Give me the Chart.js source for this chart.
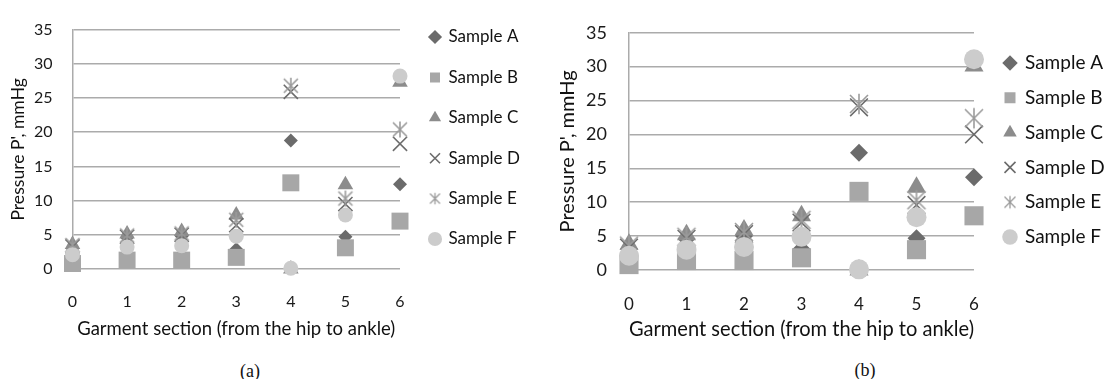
<!DOCTYPE html>
<html lang="en">
<head>
  <meta charset="UTF-8">
  <title>Garment pressure by section</title>
  <script src="https://cdn.jsdelivr.net/npm/chart.js"></script>
  <style>
    body {
      margin: 0;
      background: #fff;
      width: 1111px;
      height: 379px;
      position: relative;
      overflow: hidden;
    }

    canvas {
      position: absolute;
      top: 0;
    }

    #chartA { left: 0; }
    #chartB { left: 555px; }

    .caption {
      position: absolute;
      font-family: 'Liberation Serif', serif;
      font-size: 18px;
      color: #111;
      transform: translate(-50%, -50%);
    }
  </style>
</head>
<body>
  <canvas id="chartA" width="555" height="345"></canvas>
  <canvas id="chartB" width="556" height="345"></canvas>
  <div class="caption" style="left:250px; top:371px;">(a)</div>
  <div class="caption" style="left:865px; top:370px;">(b)</div>

  <script>
    const sections = [0, 1, 2, 3, 4, 5, 6];
    const yTickValues = [0, 5, 10, 15, 20, 25, 30, 35];
    const sampleNames = ['Sample A', 'Sample B', 'Sample C', 'Sample D', 'Sample E', 'Sample F'];

    // panel (a)
    const aSampleA = [3.0, 4.6, 4.8, 2.9, 18.8, 4.7, 12.4];
    const aSampleB = [0.8, 1.3, 1.3, 1.7, 12.6, 3.1, 7.0];
    const aSampleC = [3.6, 5.1, 5.5, 7.9, 0.0, 12.3, 27.3];
    const aSampleD = [3.3, 4.7, 5.0, 6.4, 25.9, 9.5, 18.3];
    const aSampleE = [3.5, 4.9, 5.2, 7.2, 26.8, 10.3, 20.4];
    const aSampleF = [2.1, 3.2, 3.4, 4.8, 0.1, 7.9, 28.2];

    // panel (b)
    const bSampleA = [3.1, 4.6, 5.0, 3.1, 17.3, 4.7, 13.7];
    const bSampleB = [0.8, 1.4, 1.4, 1.8, 11.6, 3.0, 8.0];
    const bSampleC = [3.8, 5.2, 5.9, 8.0, 0.0, 12.2, 30.1];
    const bSampleD = [3.3, 4.6, 5.3, 7.0, 24.0, 9.6, 20.0];
    const bSampleE = [3.6, 4.9, 5.6, 7.4, 24.5, 10.3, 22.4];
    const bSampleF = [2.1, 3.0, 3.4, 4.9, 0.1, 7.8, 31.1];

    const markerStyles = [
      { style: 'rectRot', fill: '#6b6b6b' },
      { style: 'rect', fill: '#a7a7a7' },
      { style: 'triangle', fill: '#8c8c8c' },
      { style: 'crossRot', line: '#6c6c6c' },
      { style: 'asterisk', line: '#9b9b9b' },
      { style: 'circle', fill: '#cccccc' }
    ];

    const fontFamily = 'Lato, "Open Sans", sans-serif';
    const gridColor = '#ababab';

    // X with a vertical bar, like the spreadsheet "*" marker
    function makeAsterisk(half, color, lw) {
      const size = Math.ceil(half * 2.3 + lw * 2);
      const c = document.createElement('canvas');
      c.width = size;
      c.height = size;
      const g = c.getContext('2d');
      const m = size / 2;
      g.strokeStyle = color;
      g.lineWidth = lw;
      g.beginPath();
      g.moveTo(m - half, m - half);
      g.lineTo(m + half, m + half);
      g.moveTo(m + half, m - half);
      g.lineTo(m - half, m + half);
      g.moveTo(m, m - half * 1.15);
      g.lineTo(m, m + half * 1.15);
      g.stroke();
      return c;
    }

    function buildDatasets(series, radii, legendBox) {
      return series.map((vals, i) => {
        const m = markerStyles[i];
        const ds = {
          label: sampleNames[i],
          data: sections.map((x, j) => ({ x: x, y: vals[j] })),
          order: series.length - i,
          pointRadius: radii[i],
          pointHoverRadius: radii[i],
          clip: false
        };
        if (m.fill) {
          ds.pointStyle = m.style;
          ds.pointBackgroundColor = m.fill;
          ds.pointBorderColor = m.fill;
          ds.pointBorderWidth = 0;
        } else if (m.style === 'crossRot') {
          ds.pointStyle = 'crossRot';
          ds.pointBackgroundColor = m.line;
          ds.pointBorderColor = m.line;
          ds.pointBorderWidth = 1.6;
        } else {
          ds.pointStyle = makeAsterisk(radii[i], m.line, 1.6);
          ds.legendStyle = makeAsterisk(legendBox / 2, m.line, 1.3);
          ds.pointBackgroundColor = m.line;
          ds.pointBorderColor = m.line;
          ds.pointBorderWidth = 1.6;
        }
        ds.backgroundColor = ds.pointBackgroundColor;
        ds.borderColor = ds.pointBorderColor;
        return ds;
      });
    }

    // moves the legend column so the first marker sits at (x, y)
    const legendPlacer = {
      id: 'legendPlacer',
      afterLayout(chart, args, opts) {
        const lg = chart.legend;
        if (!lg || !lg.legendItems) return;
        const lab = lg.options.labels;
        const fs = lab.font.size;
        const p = lab.padding;
        const bw = Math.min(lab.boxWidth, fs);
        const colH = lg.legendItems.length * (fs + p);
        const rowTop = (lg.top + p + lg.bottom - colH) / 2;
        const dx = opts.x - (lg.left + p + bw / 2);
        const dy = opts.y - (rowTop + fs / 2);
        lg.left += dx;
        lg.right += dx;
        lg.top += dy;
        lg.bottom += dy;
      }
    };

    function makePanel(canvasId, series, g) {
      const chart = new Chart(document.getElementById(canvasId), {
        type: 'scatter',
        data: { datasets: buildDatasets(series, g.radii, g.box) },
        plugins: [legendPlacer],
        options: {
          responsive: false,
          animation: false,
          events: [],
          layout: { padding: { left: 0, top: g.top, right: 0, bottom: 0 } },
          plugins: {
            tooltip: { enabled: false },
            legendPlacer: { x: g.legendX, y: g.legendY },
            legend: {
              position: 'right',
              align: 'center',
              labels: {
                usePointStyle: true,
                boxWidth: g.box,
                boxHeight: g.box,
                padding: g.legendPad,
                color: '#111',
                font: { family: fontFamily, size: g.legendFont },
                sort: (a, b) => a.datasetIndex - b.datasetIndex,
                generateLabels(ch) {
                  const items = Chart.defaults.plugins.legend.labels.generateLabels(ch);
                  items.forEach(it => {
                    const ds = ch.data.datasets[it.datasetIndex];
                    if (ds.legendStyle) it.pointStyle = ds.legendStyle;
                  });
                  return items;
                }
              }
            }
          },
          scales: {
            x: {
              type: 'linear',
              min: 0,
              max: 6,
              afterBuildTicks: s => { s.ticks = sections.map(v => ({ value: v })); },
              afterFit: s => { s.height = g.height - g.bottom; },
              grid: { display: false, drawTicks: false },
              border: { display: false },
              ticks: {
                padding: g.xTickPad,
                color: '#1a1a1a',
                font: { family: fontFamily, size: g.xTickFont }
              },
              title: {
                display: true,
                text: 'Garment section (from the hip to ankle)',
                color: '#111',
                font: { family: fontFamily, size: g.xTitleFont },
                padding: { top: 0, bottom: g.xTitlePad }
              }
            },
            y: {
              min: 0,
              max: 35,
              afterBuildTicks: s => { s.ticks = yTickValues.map(v => ({ value: v })); },
              afterFit: s => { s.width = g.left; },
              grid: { color: gridColor, lineWidth: 1.5, drawTicks: false },
              border: { display: true, color: gridColor, width: 1.5 },
              ticks: {
                padding: g.yTickPad,
                color: '#1a1a1a',
                font: { family: fontFamily, size: g.yTickFont }
              },
              title: {
                display: true,
                text: "Pressure P', mmHg",
                color: '#111',
                font: { family: fontFamily, size: g.yTitleFont },
                padding: { top: g.yTitlePad, bottom: 0 }
              }
            }
          }
        }
      });

      // second pass so the plot area ends where the reference does
      const diff = chart.chartArea.right - g.right;
      chart.options.layout.padding.right += diff;
      chart.update();
      return chart;
    }

    makePanel('chartA', [aSampleA, aSampleB, aSampleC, aSampleD, aSampleE, aSampleF], {
      height: 345, left: 72.5, right: 400, top: 15, bottom: 269,
      xTickFont: 16, yTickFont: 16, xTitleFont: 18.5, yTitleFont: 17.6, legendFont: 17,
      legendPad: 23.4, box: 10, legendX: 435, legendY: 37,
      xTickPad: 23, xTitlePad: 4.5, yTickPad: 20, yTitlePad: 7.5,
      radii: [7, 12, 9, 10, 7, 7.5]
    });

    makePanel('chartB', [bSampleA, bSampleB, bSampleC, bSampleD, bSampleE, bSampleF], {
      height: 345, left: 74, right: 419, top: 22.7, bottom: 270,
      xTickFont: 17, yTickFont: 18, xTitleFont: 20.7, yTitleFont: 20, legendFont: 19,
      legendPad: 15.8, box: 11, legendX: 455, legendY: 63,
      xTickPad: 24, xTitlePad: 3, yTickPad: 22, yTitlePad: 1,
      radii: [9, 13.5, 11, 12.5, 9, 10]
    });
  </script>
</body>
</html>
